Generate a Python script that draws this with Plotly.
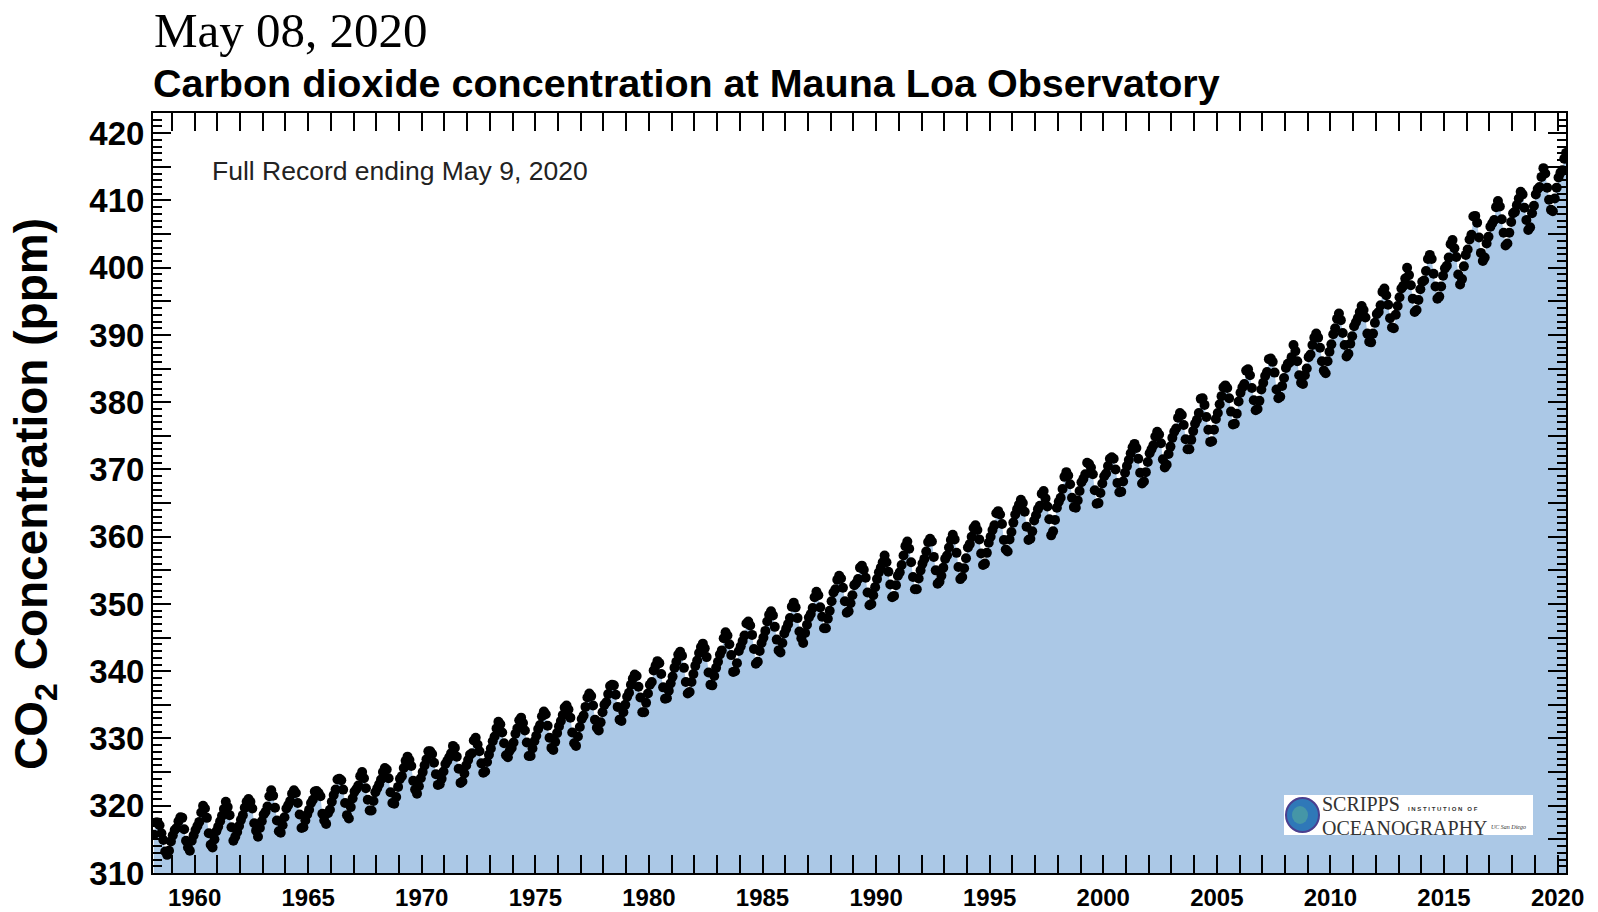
import plotly.graph_objects as go

# ---------------- DATA (monthly mean CO2, ppm) ----------------
start_year, start_month = 1958, 3

co2_1958_1959 = [
    315.7, 317.5, 317.5, 317.1, 315.9, 314.9, 313.2, 312.7, 313.3, 314.7,            # 1958 Mar-Dec
    315.6, 316.4, 316.7, 317.7, 318.3, 318.2, 316.5, 314.8, 313.8, 313.3, 314.8, 315.6,  # 1959
]
co2_1960s = [
    316.4, 317.0, 317.6, 319.0, 320.0, 319.6, 318.2, 315.9, 314.2, 313.8, 315.0, 316.2,  # 1960
    316.9, 317.7, 318.5, 319.5, 320.6, 319.8, 318.6, 316.8, 314.8, 315.4, 316.1, 317.0,  # 1961
    317.9, 318.6, 319.7, 320.6, 321.0, 320.6, 319.6, 317.4, 316.3, 315.4, 316.7, 317.7,  # 1962
    318.7, 319.1, 319.9, 321.4, 322.3, 321.5, 319.7, 317.8, 316.2, 316.0, 317.1, 318.3,  # 1963
    319.6, 320.1, 320.7, 321.8, 322.3, 321.9, 320.4, 318.7, 316.7, 316.8, 317.8, 318.7,  # 1964
    319.4, 320.4, 320.9, 322.1, 322.2, 321.9, 321.4, 318.8, 317.8, 317.3, 318.9, 319.4,  # 1965
    320.6, 321.6, 322.4, 323.9, 324.0, 323.8, 322.4, 320.4, 318.6, 318.1, 319.8, 321.1,  # 1966
    322.1, 322.5, 323.0, 324.4, 325.0, 324.1, 322.6, 320.9, 319.3, 319.3, 320.7, 322.0,  # 1967
    322.6, 323.2, 323.9, 325.0, 325.6, 325.4, 324.1, 322.0, 320.4, 320.3, 321.3, 322.8,  # 1968
    324.0, 324.4, 325.6, 326.7, 327.3, 326.8, 325.9, 323.7, 322.4, 321.8, 322.9, 324.1,  # 1969
]
co2_1970s = [
    325.0, 326.0, 326.9, 328.1, 328.1, 327.7, 326.4, 324.7, 323.1, 323.2, 324.0, 325.1,  # 1970
    326.2, 326.7, 327.2, 327.8, 328.9, 328.6, 327.3, 325.5, 323.4, 323.6, 324.8, 326.0,  # 1971
    326.8, 327.6, 327.8, 329.7, 330.1, 329.1, 328.1, 326.3, 324.9, 325.1, 326.5, 327.6,  # 1972
    328.5, 329.6, 330.3, 331.5, 332.5, 332.1, 330.9, 329.3, 327.5, 327.2, 328.2, 328.6,  # 1973
    329.4, 330.7, 331.5, 332.7, 333.1, 332.3, 331.2, 329.4, 327.4, 327.4, 328.5, 329.6,  # 1974
    330.4, 331.4, 332.0, 333.3, 334.0, 333.6, 331.9, 330.1, 328.6, 328.3, 329.5, 330.8,  # 1975
    331.8, 332.6, 333.5, 334.6, 334.9, 334.3, 333.1, 330.9, 329.3, 328.9, 330.3, 331.7,  # 1976
    332.9, 333.4, 334.7, 336.1, 336.7, 336.3, 334.9, 332.8, 331.6, 331.2, 332.4, 333.9,  # 1977
    335.0, 335.4, 336.6, 337.8, 338.0, 337.9, 336.5, 334.7, 332.8, 332.6, 333.9, 335.0,  # 1978
    336.2, 336.8, 338.0, 338.9, 339.5, 339.3, 337.7, 336.1, 333.9, 333.9, 335.3, 336.7,  # 1979
]
co2_1980s = [
    338.0, 338.4, 340.1, 340.8, 341.5, 341.2, 339.6, 337.6, 335.9, 336.0, 337.1, 338.2,  # 1980
    339.2, 340.5, 341.4, 342.5, 342.9, 342.3, 340.5, 338.4, 336.7, 336.9, 338.4, 339.6,  # 1981
    340.8, 341.6, 342.7, 343.6, 344.1, 343.4, 342.1, 339.8, 338.0, 337.9, 339.3, 340.5,  # 1982
    341.4, 342.5, 343.1, 344.9, 345.8, 345.3, 344.0, 342.4, 339.9, 340.0, 341.2, 343.0,  # 1983
    343.7, 344.5, 345.3, 347.1, 347.4, 346.8, 345.4, 343.3, 341.1, 341.4, 343.0, 344.2,  # 1984
    345.0, 346.0, 347.4, 348.4, 348.9, 348.3, 346.6, 344.7, 343.1, 342.8, 344.2, 345.6,  # 1985
    346.3, 347.0, 347.9, 349.6, 350.2, 349.5, 347.9, 345.9, 344.9, 344.2, 345.7, 346.9,  # 1986
    348.0, 348.5, 349.4, 351.0, 351.8, 351.3, 349.5, 348.1, 346.4, 346.4, 347.8, 349.0,  # 1987
    350.4, 351.7, 352.2, 353.6, 354.2, 353.8, 352.4, 350.4, 348.7, 348.9, 350.1, 351.3,  # 1988
    352.8, 353.1, 353.7, 355.4, 355.7, 355.1, 353.9, 351.7, 349.8, 350.0, 351.3, 352.5,  # 1989
]
co2_1990s = [
    353.7, 354.7, 355.4, 356.2, 357.2, 356.2, 354.8, 352.9, 351.0, 351.2, 352.8, 354.2,  # 1990
    354.7, 355.8, 357.2, 358.6, 359.3, 358.2, 356.2, 354.0, 352.2, 352.2, 353.8, 355.0,  # 1991
    356.0, 356.7, 357.8, 359.2, 359.7, 359.3, 357.0, 355.0, 353.0, 353.3, 354.2, 355.4,  # 1992
    356.7, 357.2, 358.4, 359.5, 360.3, 359.6, 357.6, 355.5, 353.7, 354.0, 355.3, 356.8,  # 1993
    358.4, 358.9, 360.0, 361.3, 361.7, 361.0, 359.6, 357.5, 355.8, 356.0, 357.6, 359.1,  # 1994
    360.0, 361.0, 361.7, 363.5, 363.8, 363.3, 361.9, 359.5, 358.1, 357.8, 359.6, 360.7,  # 1995
    362.1, 363.3, 364.1, 364.8, 365.5, 365.0, 363.7, 361.5, 359.5, 359.7, 360.8, 362.4,  # 1996
    363.2, 364.1, 364.6, 366.4, 366.8, 365.7, 364.5, 362.6, 360.2, 360.8, 362.5, 364.3,  # 1997
    365.2, 365.8, 367.1, 368.9, 369.6, 369.1, 367.8, 365.8, 364.4, 364.3, 365.4, 366.8,  # 1998
    368.1, 368.6, 369.3, 371.0, 370.8, 370.3, 369.3, 366.9, 364.9, 365.0, 366.5, 367.9,  # 1999
]
co2_2000s = [
    369.0, 369.4, 370.5, 371.6, 371.8, 371.6, 370.0, 368.0, 366.6, 366.7, 368.2, 369.5,  # 2000
    370.5, 371.4, 372.4, 373.3, 373.8, 373.2, 371.6, 369.5, 367.9, 368.2, 369.6, 371.1,  # 2001
    372.4, 373.0, 373.6, 374.9, 375.6, 375.2, 373.9, 371.5, 370.3, 370.7, 372.3, 373.4,  # 2002
    374.7, 375.6, 376.1, 377.7, 378.4, 378.1, 376.6, 374.5, 373.0, 373.0, 374.4, 375.7,  # 2003
    376.8, 377.4, 378.4, 380.5, 380.6, 379.6, 377.8, 375.9, 374.1, 374.2, 375.9, 377.5,  # 2004
    378.4, 379.7, 380.9, 382.2, 382.5, 382.1, 380.6, 378.6, 376.7, 376.8, 378.3, 380.1,  # 2005
    381.4, 382.2, 382.7, 384.7, 384.9, 384.0, 382.1, 380.3, 378.8, 379.0, 380.2, 381.9,  # 2006
    382.9, 383.9, 384.5, 386.4, 386.5, 386.0, 384.4, 381.9, 380.6, 380.8, 382.4, 383.6,  # 2007
    385.1, 385.7, 385.9, 386.7, 388.5, 387.6, 386.1, 384.0, 382.9, 382.7, 384.0, 385.0,  # 2008
    386.7, 387.1, 388.5, 389.6, 390.2, 389.6, 388.1, 386.1, 384.7, 384.3, 386.1, 387.5,  # 2009
]
co2_2010s = [
    388.6, 390.1, 391.0, 392.4, 393.2, 392.2, 390.3, 388.5, 386.8, 387.2, 388.7, 389.8,  # 2010
    391.3, 391.9, 392.5, 393.4, 394.3, 393.7, 392.6, 390.2, 389.0, 388.9, 390.2, 391.8,  # 2011
    393.1, 393.4, 394.4, 396.4, 396.9, 395.9, 394.5, 392.5, 391.1, 391.0, 393.0, 394.3,  # 2012
    395.6, 396.9, 397.3, 398.4, 400.0, 398.9, 397.4, 395.4, 393.4, 393.7, 395.2, 396.8,  # 2013
    397.9, 398.1, 399.5, 401.3, 401.9, 401.3, 399.1, 397.2, 395.4, 395.7, 397.2, 398.8,  # 2014
    399.9, 400.3, 401.5, 403.5, 404.1, 402.9, 401.6, 399.0, 397.5, 398.3, 400.2, 401.9,  # 2015
    402.7, 404.2, 404.9, 407.6, 407.7, 406.7, 404.5, 402.2, 401.0, 401.5, 403.6, 404.6,  # 2016
    406.1, 406.6, 407.1, 409.0, 409.9, 409.1, 407.2, 405.2, 403.3, 403.6, 405.2, 406.8,  # 2017
    408.1, 408.3, 409.3, 410.3, 411.3, 410.9, 408.9, 407.1, 405.6, 406.0, 408.1, 409.2,  # 2018
    410.9, 411.7, 412.0, 413.5, 414.8, 414.0, 411.9, 410.1, 408.6, 408.4, 410.3, 411.9,  # 2019
]
co2_2020 = [413.4, 414.1, 414.5, 416.2, 417.1]  # 2020 Jan-May

x_tick_years = [1960, 1965, 1970, 1975, 1980, 1985, 1990, 1995, 2000, 2005, 2010, 2015, 2020]
y_tick_values = [310, 320, 330, 340, 350, 360, 370, 380, 390, 400, 410, 420]
y_half_ticks = [315, 325, 335, 345, 355, 365, 375, 385, 395, 405, 415]

date_text = "May 08, 2020"
title_text = "Carbon dioxide concentration at Mauna Loa Observatory"
note_text = "Full Record ending May 9, 2020"
y_title_text = "CO<sub>2</sub> Concentration (ppm)"

# ---------------- BUILD ----------------
co2 = co2_1958_1959 + co2_1960s + co2_1970s + co2_1980s + co2_1990s + co2_2000s + co2_2010s + co2_2020
x_dec = []
yy, mm = start_year, start_month
for _ in co2:
    x_dec.append(yy + (mm - 0.5) / 12.0)
    mm += 1
    if mm > 12:
        mm = 1
        yy += 1

W, H = 1598, 912
L, R, T, B = 153, 1566, 113, 873   # plot-area pixel box
Y_RANGE = [310, 423]


def px(xp):
    return (xp - L) / (R - L)


def py(yp):
    return (B - yp) / (B - T)


fig = go.Figure()
fig.add_trace(go.Scatter(
    x=x_dec, y=co2, mode="lines", line=dict(width=0, color="#abc8e6"),
    fill="tozeroy", fillcolor="#abc8e6", hoverinfo="skip", showlegend=False))
fig.add_trace(go.Scatter(
    x=x_dec, y=co2, mode="markers",
    marker=dict(size=10, color="black", line=dict(width=0)), showlegend=False))
# invisible trace so the overlay axis carrying the half-decade ticks is drawn
fig.add_trace(go.Scatter(
    x=x_dec[:1], y=co2[:1], yaxis="y2", mode="markers",
    marker=dict(size=1, opacity=0), hoverinfo="skip", showlegend=False))

axis_font = dict(family="Liberation Sans, Arial, sans-serif", color="black", weight="bold")

fig.update_layout(
    width=W, height=H, autosize=False,
    margin=dict(l=L, r=W - R, t=T, b=H - B, pad=0),
    paper_bgcolor="white", plot_bgcolor="white",
    showlegend=False,
    xaxis=dict(
        range=[1958.17, 2020.37], tickmode="array", tickvals=x_tick_years,
        ticktext=[str(v) for v in x_tick_years],
        ticks="inside", ticklen=18, tickwidth=2, tickcolor="black",
        showline=True, linewidth=2, linecolor="black", mirror="allticks",
        showgrid=False, zeroline=False, automargin=False,
        tickfont=dict(size=24, **axis_font), ticklabelstandoff=2,
        minor=dict(tickmode="linear", tick0=1960, dtick=1, ticks="inside",
                   ticklen=7, tickwidth=2, tickcolor="black", showgrid=False),
    ),
    yaxis=dict(
        range=Y_RANGE, tickmode="array", tickvals=y_tick_values,
        ticktext=[str(v) for v in y_tick_values],
        ticks="inside", ticklen=18, tickwidth=2, tickcolor="black",
        showline=True, linewidth=2, linecolor="black", mirror="allticks",
        showgrid=False, zeroline=False, automargin=False,
        tickfont=dict(size=33, **axis_font), ticklabelstandoff=0,
        minor=dict(tickmode="linear", tick0=310, dtick=1, ticks="inside",
                   ticklen=9, tickwidth=2, tickcolor="black", showgrid=False),
    ),
    yaxis2=dict(
        range=Y_RANGE, overlaying="y", side="left", tickmode="array", tickvals=y_half_ticks,
        ticks="inside", ticklen=18, tickwidth=2, tickcolor="black",
        showticklabels=False, showline=False, mirror="allticks",
        showgrid=False, zeroline=False, automargin=False,
    ),
)

annotations = [
    dict(text=date_text, x=px(152), y=py(30), xref="paper", yref="paper",
         xanchor="left", yanchor="middle", showarrow=False,
         font=dict(family="Liberation Serif, Times New Roman, serif", size=49, color="black")),
    dict(text=title_text, x=px(151), y=py(83), xref="paper", yref="paper",
         xanchor="left", yanchor="middle", showarrow=False,
         font=dict(family="Liberation Sans, Arial, sans-serif", size=39.5, color="black", weight="bold")),
    dict(text=y_title_text, x=px(35), y=py(494), xref="paper", yref="paper",
         xanchor="center", yanchor="middle", showarrow=False, textangle=-90,
         font=dict(family="Liberation Sans, Arial, sans-serif", size=46, color="black", weight="bold")),
    dict(text=note_text, x=px(210), y=py(171), xref="paper", yref="paper",
         xanchor="left", yanchor="middle", showarrow=False,
         font=dict(family="Liberation Sans, Arial, sans-serif", size=26.5, color="#222222")),
    # Scripps logo text
    dict(text="SCRIPPS", x=px(1321), y=py(816), xref="paper", yref="paper",
         xanchor="left", yanchor="bottom", showarrow=False, borderpad=0,
         font=dict(family="Liberation Serif, Times New Roman, serif", size=20, color="#333333")),
    dict(text="I N S T I T U T I O N &nbsp; O F", x=px(1407), y=py(809), xref="paper", yref="paper",
         xanchor="left", yanchor="middle", showarrow=False, borderpad=0,
         font=dict(family="Liberation Sans, Arial, sans-serif", size=6, color="#333333", weight="bold")),
    dict(text="OCEANOGRAPHY", x=px(1321), y=py(816), xref="paper", yref="paper",
         xanchor="left", yanchor="top", showarrow=False, borderpad=0,
         font=dict(family="Liberation Serif, Times New Roman, serif", size=20, color="#333333")),
    dict(text="<i>UC San Diego</i>", x=px(1490), y=py(827), xref="paper", yref="paper",
         xanchor="left", yanchor="middle", showarrow=False, borderpad=0,
         font=dict(family="Liberation Serif, Times New Roman, serif", size=6, color="#333333")),
]
fig.update_layout(annotations=annotations)

shapes = [
    dict(type="rect", xref="paper", yref="paper", x0=px(1284), x1=px(1533), y0=py(835), y1=py(795),
         fillcolor="white", line=dict(width=0), layer="above"),
    dict(type="circle", xref="paper", yref="paper", x0=px(1286), x1=px(1319), y0=py(832), y1=py(798),
         fillcolor="#2f78b8", line=dict(color="#4a3f8f", width=2), layer="above"),
    dict(type="circle", xref="paper", yref="paper", x0=px(1292), x1=px(1308), y0=py(824), y1=py(806),
         fillcolor="#4fa3a0", line=dict(width=0), opacity=0.7, layer="above"),
]
fig.update_layout(shapes=shapes)

fig.write_html(
    "out.html",
    config={"displayModeBar": False},
    post_script="document.body.style.margin='0';document.body.style.overflow='hidden';",
)
